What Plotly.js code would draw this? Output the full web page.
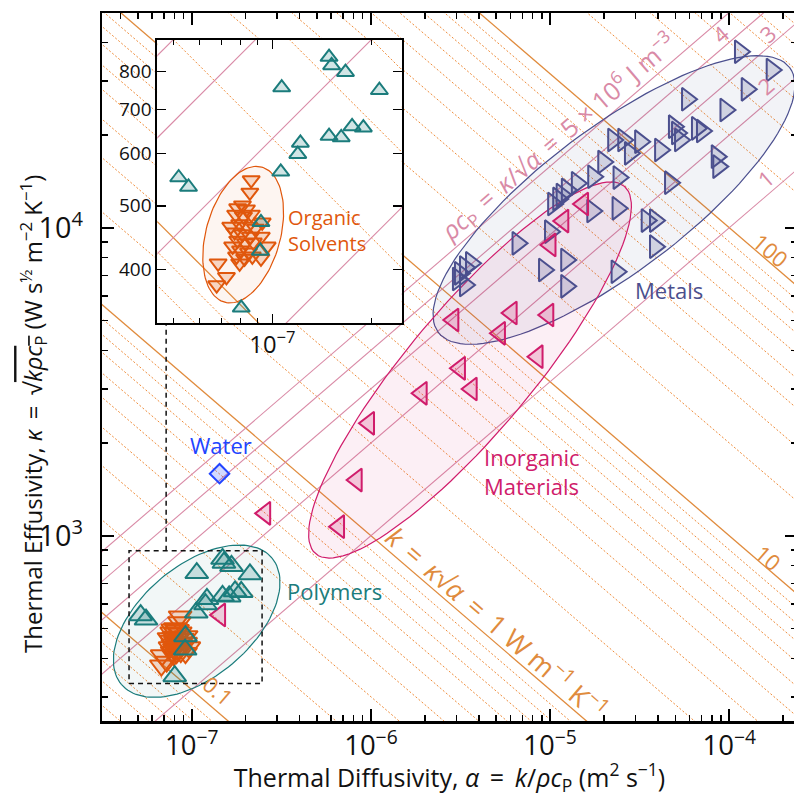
<!DOCTYPE html>
<html><head><meta charset="utf-8">
<script src="https://cdn.plot.ly/plotly-3.0.1.min.js"></script>
<style>html,body{margin:0;padding:0;overflow:hidden;background:#fff}</style>
</head><body><div id="chart" style="width:797px;height:797px"></div>
<script>
// ---------------- data ----------------
const polymerAlpha = [1.486e-7,1.513e-7,1.667e-7,1.067e-7,2.113e-7,1.746e-7,1.889e-7,1.486e-7,1.618e-7,1.216e-7,1.194e-7,1.060e-7,5.19e-8,5.56e-8,9.23e-8,9.19e-8,8.04e-8];
const polymerKappa = [841,817,798,756,749,660,657,638,635,623,599,563,552,534,472,427,350];

const organicAlpha = [8.62e-8,8.54e-8,8.11e-8,7.84e-8,8.34e-8,7.73e-8,8.17e-8,8.63e-8,9.31e-8,7.47e-8,7.95e-8,8.40e-8,8.87e-8,7.68e-8,8.11e-8,8.57e-8,7.84e-8,8.28e-8,8.75e-8,9.25e-8,7.57e-8,8.00e-8,8.46e-8,9.64e-8,7.78e-8,8.23e-8,8.69e-8,9.23e-8,7.95e-8,6.84e-8,7.25e-8,6.77e-8];
const organicKappa = [547,524,501,496,494,485,482,485,472,465,469,465,462,456,453,449,443,439,440,449,434,428,425,434,419,416,419,416,409,409,390,379];

const inorganicAlpha = [1.527e-5,1.185e-5,1.005e-5,2.884e-6,6.10e-6,9.77e-6,5.25e-6,8.51e-6,3.14e-6,3.65e-6,1.92e-6,9.76e-7,8.33e-7,6.64e-7,2.57e-7,1.44e-7];
const inorganicKappa = [11940,10510,8790,5015,5285,5206,4541,3813,3495,2995,2900,2317,1516,1070,1182,553];

const metalAlpha = [1.147e-4,1.724e-4,1.251e-4,5.81e-5,9.52e-5,4.91e-5,5.11e-5,6.60e-5,7.04e-5,5.31e-5,4.11e-5,3.18e-5,2.25e-5,2.56e-5,2.79e-5,8.51e-5,8.68e-5,1.98e-5,2.41e-5,1.74e-5,1.41e-5,4.67e-5,1.11e-5,1.04e-5,1.24e-5,1.16e-5,1.72e-5,2.38e-5,3.46e-5,3.85e-5,3.85e-5,9.99e-6,6.58e-6,1.23e-5,9.25e-6,2.35e-5,1.23e-5,3.62e-6,3.35e-6,3.14e-6,3.06e-6,3.35e-6];
const metalKappa = [37270,32510,28140,26120,24110,21280,20300,21020,20610,19260,17880,19020,19260,19260,17440,17010,15790,16340,14550,14640,13940,14000,12400,11940,13260,12770,11330,11560,10550,10550,8678,9705,8900,7856,7290,7196,6452,7662,7426,7110,6815,6516];

const waterAlpha = [1.43e-7];
const waterKappa = [1590];

// guide-line levels
const kMajor = [0.1, 1, 10, 100];                       // W m^-1 K^-1
const kMinor = [0.05,0.06,0.07,0.08,0.09,0.2,0.3,0.4,0.5,0.6,0.7,0.8,0.9,2,3,4,5,6,7,8,9,20,30,40,50,60,70,80,90,200,300,400,500,600,700,800,900];
const rhoCp = [1e6, 2e6, 3e6, 4e6, 5e6];                // J m^-3 K^-1
const lineSpan = [1e-10, 1e-2];

// zoom window shown in inset
const zoomX = [4.47e-8, 2.47e-7];
const zoomY = [331.5, 893];
const connectorX = 7.2e-8;
const connectorTop = 4890;

// ---------------- styling ----------------
const FONT = '"Open Sans", "DejaVu Sans", sans-serif';
const C = {
  teal:'#1b7c7c', orange:'#e0570c', magenta:'#d01c6b', slate:'#4b4f8e', blue:'#2244ff',
  kSolid:'#e08b3d', kDot:'#ef8c3a', pink:'#d98aa6'
};
const W = 797, H = 797, M = {l:102, r:0, t:13, b:76};
const PW = W - M.l - M.r, PH = H - M.t - M.b;
const xr = [-7.5006, -3.6222], yr = [2.3984, 4.6971];
const x2d = [0.0796, 0.4312], y2d = [0.5617, 0.9619];
const x2r = [Math.log10(zoomX[0]), Math.log10(zoomX[1])];
const y2r = [Math.log10(zoomY[0]), Math.log10(zoomY[1])];

function linesTrace(levels, fn, xa, ya, color, width, dash){
  const x=[], y=[];
  levels.forEach(v=>{ lineSpan.forEach(a=>{x.push(a); y.push(fn(v,a));}); x.push(null); y.push(null); });
  return {type:'scatter', mode:'lines', x, y, xaxis:xa, yaxis:ya, hoverinfo:'skip',
          line:{color, width, dash}, showlegend:false};
}
const kFn = (k,a)=> k/Math.sqrt(a);
const rFn = (r,a)=> r*Math.sqrt(a);

function guideTraces(xa, ya){
  return [
    linesTrace(kMinor, kFn, xa, ya, C.kDot, 1, '2px,2px'),
    linesTrace(kMajor, kFn, xa, ya, C.kSolid, 1.3, 'solid'),
    linesTrace(rhoCp, rFn, xa, ya, C.pink, 1.1, 'solid')
  ];
}

// ellipse with axes given in screen pixels around a data centre
function ellipse(cA, cK, a, b, deg, sx, sy, xa, ya, edge, fill){
  const th = deg*Math.PI/180, x=[], y=[];
  const lx = Math.log10(cA), ly = Math.log10(cK);
  for(let i=0;i<=120;i++){
    const t = 2*Math.PI*i/120, u=a*Math.cos(t), v=b*Math.sin(t);
    const dx = u*Math.cos(th)-v*Math.sin(th), dy = u*Math.sin(th)+v*Math.cos(th);
    x.push(Math.pow(10, lx+dx/sx)); y.push(Math.pow(10, ly+dy/sy));
  }
  return {type:'scatter', mode:'lines', x, y, xaxis:xa, yaxis:ya, fill:'toself', fillcolor:fill,
          line:{color:edge, width:1.2}, hoverinfo:'skip', showlegend:false};
}
const sx = PW/(xr[1]-xr[0]), sy = PH/(yr[1]-yr[0]);
const sx2 = PW*(x2d[1]-x2d[0])/(x2r[1]-x2r[0]), sy2 = PH*(y2d[1]-y2d[0])/(y2r[1]-y2r[0]);

function markers(x, y, sym, color, fill, size, xa, ya){
  return {type:'scatter', mode:'markers', x, y, xaxis:xa, yaxis:ya, hoverinfo:'skip', showlegend:false,
          marker:{symbol:sym, size, color:fill, line:{color, width:2}}};
}
const MS = 20, MS2 = 15;
const traces = [
  ...guideTraces('x','y'),
  ellipse(2.273e-5, 12300, 220, 72, 37, sx, sy, 'x','y', C.slate, 'rgba(75,79,142,0.07)'),
  ellipse(3.573e-6, 3451, 240, 62, 50, sx, sy, 'x','y', C.magenta, 'rgba(208,28,107,0.07)'),
  ellipse(1.066e-7, 527.8, 98.3, 55.6, 40, sx, sy, 'x','y', C.teal, 'rgba(27,124,124,0.06)'),
  {type:'scatter', mode:'lines', x:[zoomX[0],zoomX[1],zoomX[1],zoomX[0],zoomX[0]], y:[zoomY[0],zoomY[0],zoomY[1],zoomY[1],zoomY[0]],
   line:{color:'#111', width:1.5, dash:'5px,4px'}, hoverinfo:'skip', showlegend:false},
  {type:'scatter', mode:'lines', x:[connectorX, connectorX], y:[zoomY[1], connectorTop],
   line:{color:'#111', width:1.5, dash:'5px,4px'}, hoverinfo:'skip', showlegend:false},
  markers(metalAlpha, metalKappa, 'triangle-right', C.slate, 'rgba(75,79,142,0.2)', MS, 'x','y'),
  markers(inorganicAlpha, inorganicKappa, 'triangle-left', C.magenta, 'rgba(208,28,107,0.2)', MS, 'x','y'),
  markers(organicAlpha, organicKappa, 'triangle-down', C.orange, 'rgba(224,87,12,0.2)', MS, 'x','y'),
  markers(polymerAlpha, polymerKappa, 'triangle-up', C.teal, 'rgba(27,124,124,0.2)', MS, 'x','y'),
  markers(waterAlpha, waterKappa, 'diamond', C.blue, 'rgba(34,68,255,0.2)', 15, 'x','y'),
  // inset
  ...guideTraces('x2','y2'),
  ellipse(8.15e-8, 452, 70.1, 37.2, 74.6, sx2, sy2, 'x2','y2', C.orange, 'rgba(224,87,12,0.06)'),
  markers(organicAlpha, organicKappa, 'triangle-down', C.orange, 'rgba(224,87,12,0.2)', MS2, 'x2','y2'),
  markers(polymerAlpha, polymerKappa, 'triangle-up', C.teal, 'rgba(27,124,124,0.2)', MS2, 'x2','y2')
];

function ann(x, y, text, color, size, angle, xanchor, xref, yref){
  return {x, y, text, xref:xref||'x', yref:yref||'y', showarrow:false, textangle:angle||0,
          xanchor:xanchor||'center', yanchor:'middle', align:'left',
          font:{family:FONT, size:size||22, color}};
}
const S = '\u2009'; // thin space for math spacing
const annotations = [
  ann(-6.8365, 3.2945, 'Water', C.blue, 22),
  ann(-6.4793, 2.8205, 'Polymers', C.teal, 22, 0, 'left'),
  ann(-5.38, 3.21, 'Inorganic<br>Materials', C.magenta, 22, 0, 'left'),
  ann(-4.5374, 3.7977, 'Metals', C.slate, 22, 0, 'left'),
  ann(-6.959, 2.6617, 'Organic<br>Solvents', C.orange, 20, 0, 'left', 'x2', 'y2'),
  ann(-6.8532, 2.499, '0.1', C.kSolid, 22, 40.7),
  ann(-5.2963, 2.7166, `<i>k</i>${S} = ${S}<i>κ</i>√<i>α</i>${S} = ${S}1 W m<sup>−1</sup> K<sup>−1</sup>`, C.kSolid, 27, 40.7),
  ann(-3.784, 2.9308, '10', C.kSolid, 22, 40.7),
  ann(-3.7673, 3.9276, '100', C.kSolid, 22, 40.7),
  ann(-4.9559, 4.2945, `<i>ρc</i><sub>P</sub>${S} = ${S}<i>κ</i>/√<i>α</i>${S} = ${S}5 × 10<sup>6</sup> J m<sup>−3</sup>`, C.pink, 25, -40.7),
  ann(-4.0519, 4.6289, '4', C.pink, 22, -40.7),
  ann(-3.7841, 4.6321, '3', C.pink, 22, -40.7),
  ann(-3.7953, 4.4633, '2', C.pink, 22, -40.7),
  ann(-3.7953, 4.1614, '1', C.pink, 22, -40.7),
  // y-axis title (placed as annotation for exact centring)
  {x:(33-M.l)/PW, y:(H-M.b-414)/PH, xref:'paper', yref:'paper', showarrow:false, textangle:-90,
   xanchor:'center', yanchor:'middle',
   text:`Thermal Effusivity, <i>κ</i>${S} = ${S}√<span style="text-decoration:overline"><i>kρc</i><sub>P</sub></span> (W s<sup>½</sup> m<sup>−2</sup> K<sup>−1</sup>)`,
   font:{family:FONT, size:24, color:'#111'}}
];

const axBase = {type:'log', showgrid:false, zeroline:false, showline:true, linecolor:'#000', linewidth:2.5,
  mirror:'allticks', ticks:'inside', ticklen:12, tickwidth:2, tickcolor:'#000', dtick:1,
  exponentformat:'power', tickfont:{family:FONT, size:23, color:'#111'},
  minor:{ticks:'inside', ticklen:6, tickwidth:1.5, tickcolor:'#000', dtick:'D1', showgrid:false}};

const layout = {
  width:W, height:H, margin:M, paper_bgcolor:'#fff', plot_bgcolor:'#fff', showlegend:false,
  font:{family:FONT, size:22, color:'#111'},
  xaxis: Object.assign({}, axBase, {range:xr, domain:[0,1], ticklabelstandoff:0, tickfont:{family:FONT, size:22, color:'#111'},
    title:{text:`Thermal Diffusivity, <i>α</i>${S} = ${S}<i>k</i>/<i>ρc</i><sub>P</sub> (m<sup>2</sup> s<sup>−1</sup>)`, font:{family:FONT,size:25,color:'#111'}, standoff:17}}),
  yaxis: Object.assign({}, axBase, {range:yr, domain:[0,1], ticklabelstandoff:12}),
  xaxis2: Object.assign({}, axBase, {range:x2r, domain:x2d, anchor:'y2', linewidth:2, ticklen:9, tickwidth:1.5,
    tickfont:{family:FONT, size:19, color:'#111'},
    minor:{ticks:'inside', ticklen:5, tickwidth:1.2, tickcolor:'#000', dtick:'D1', showgrid:false}}),
  yaxis2: Object.assign({}, axBase, {range:y2r, domain:y2d, anchor:'x2', linewidth:2, ticklen:9, tickwidth:1.5,
    dtick:undefined, tickmode:'array', tickvals:[400,500,600,700,800], ticktext:['400','500','600','700','800'],
    tickfont:{family:FONT, size:19, color:'#111'}, minor:{ticks:''}}),
  annotations
};

Plotly.newPlot('chart', traces, layout, {staticPlot:true, displayModeBar:false});
</script></body></html>
